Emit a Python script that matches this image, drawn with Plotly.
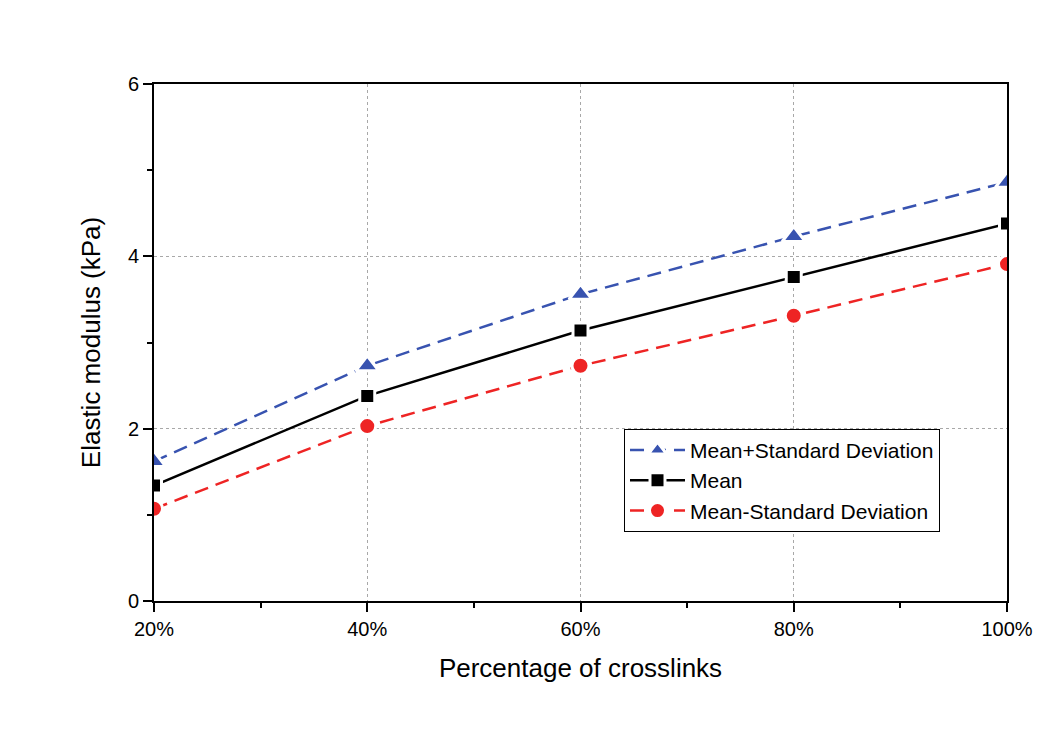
import plotly.graph_objects as go

crosslinks = [20, 40, 60, 80, 100]
x_tick_labels = ["20%", "40%", "60%", "80%", "100%"]
y_tick_vals = [0, 2, 4, 6]
mean_plus_sd = [1.62, 2.73, 3.56, 4.23, 4.86]
mean_vals = [1.34, 2.38, 3.14, 3.76, 4.38]
mean_minus_sd = [1.07, 2.03, 2.73, 3.31, 3.91]

FONT = "Liberation Sans, Arial, sans-serif"

fig = go.Figure()

fig.add_trace(go.Scatter(
    x=crosslinks, y=mean_plus_sd, name="Mean+Standard Deviation",
    mode="lines+markers",
    line=dict(color="#3853B0", width=2.5, dash="14px,8px"),
    marker=dict(symbol="triangle-up", size=20, color="#3853B0",
                line=dict(color="white", width=3)),
))
fig.add_trace(go.Scatter(
    x=crosslinks, y=mean_vals, name="Mean",
    mode="lines+markers",
    line=dict(color="black", width=2.5),
    marker=dict(symbol="square", size=15, color="black",
                line=dict(color="white", width=3)),
))
fig.add_trace(go.Scatter(
    x=crosslinks, y=mean_minus_sd, name="Mean-Standard Deviation",
    mode="lines+markers",
    line=dict(color="#EE2424", width=2.5, dash="14px,8px"),
    marker=dict(symbol="circle", size=17, color="#EE2424",
                line=dict(color="white", width=3)),
))

tick_font = dict(family=FONT, size=20, color="black")
title_font = dict(family=FONT, size=26, color="black")

fig.update_layout(
    width=1054, height=731,
    margin=dict(l=154, r=47, t=84, b=130),
    paper_bgcolor="white", plot_bgcolor="white",
    font=dict(family=FONT, color="black"),
    showlegend=True,
    legend=dict(
        x=0.551, y=0.333, xanchor="left", yanchor="top",
        bgcolor="white", bordercolor="black", borderwidth=1,
        font=dict(family=FONT, size=21, color="black"),
        tracegroupgap=0, itemwidth=55,
    ),
)

fig.update_xaxes(
    range=[20, 100], tickmode="array", tickvals=crosslinks, ticktext=x_tick_labels,
    ticks="outside", ticklen=9, tickwidth=2, tickcolor="black",
    showline=True, linecolor="black", linewidth=2, mirror=True,
    showgrid=True, gridcolor="#A8A8A8", gridwidth=1, griddash="3px,3px",
    tickfont=tick_font, zeroline=False,
    minor=dict(ticks="outside", ticklen=5, tickwidth=2, tickcolor="black", dtick=10, tick0=0, showgrid=False),
    title=dict(text="Percentage of crosslinks", font=title_font, standoff=20),
)
fig.update_yaxes(
    range=[0, 6], tickmode="array", tickvals=y_tick_vals,
    ticks="outside", ticklen=9, tickwidth=2, tickcolor="black",
    showline=True, linecolor="black", linewidth=2, mirror=True,
    showgrid=True, gridcolor="#A8A8A8", gridwidth=1, griddash="3px,3px",
    tickfont=tick_font, zeroline=False,
    minor=dict(ticks="outside", ticklen=5, tickwidth=2, tickcolor="black", dtick=1, tick0=0, showgrid=False),
    title=dict(text="Elastic modulus (kPa)", font=title_font, standoff=20),
)

fig.write_html("out.html")
